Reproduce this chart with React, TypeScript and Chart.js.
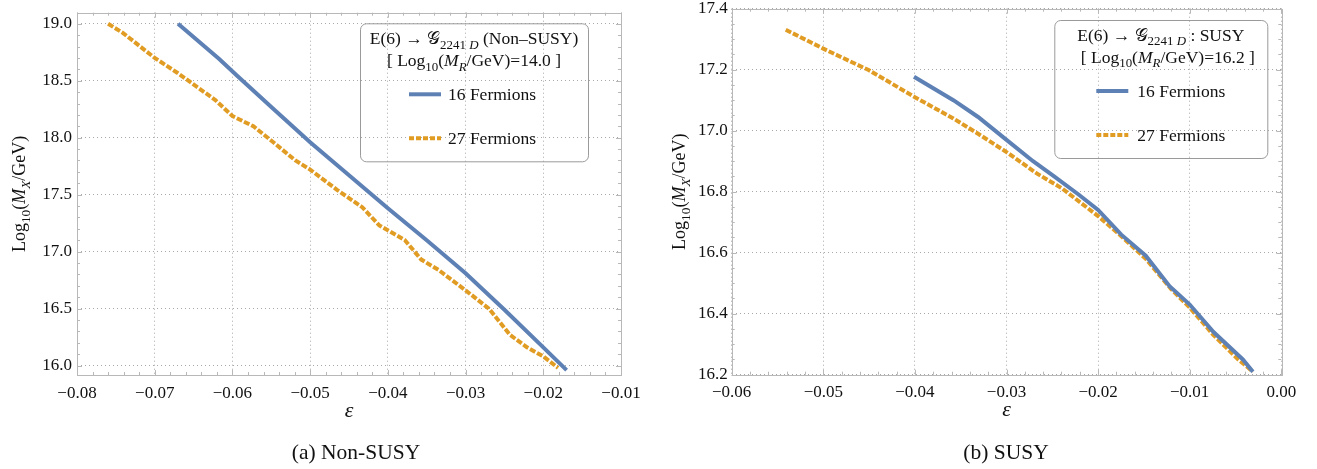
import React, { useEffect, useRef } from "react";
import { Chart, registerables } from "chart.js";

Chart.register(...registerables);

const SERIF = '"Liberation Serif", "Times New Roman", Times, serif';
const BLUE = "#5e81b5";
const ORANGE = "#e19c24";
const GRID = "#a8a8a8";
const FRAME = "#b8b8b8";
const TEXT = "#111111";

const seriesLabels = ["16 Fermions", "27 Fermions"];

// ---------- (a) Non-SUSY ----------
const nonSusyEps16 = [-0.067, -0.0617, -0.0595, -0.055, -0.05, -0.045, -0.04, -0.035, -0.03, -0.025, -0.02, -0.017];
const nonSusyLogMX16 = [19.0, 18.69, 18.55, 18.27, 17.96, 17.67, 17.38, 17.1, 16.81, 16.49, 16.16, 15.96];
const nonSusyEps27 = [
  -0.076, -0.0741, -0.07, -0.0671, -0.0622, -0.06, -0.0573, -0.0551, -0.0519, -0.05, -0.0465,
  -0.0433, -0.0411, -0.0378, -0.0357, -0.0335, -0.03, -0.027, -0.0243, -0.0221, -0.02, -0.0181,
];
const nonSusyLogMX27 = [
  19.0, 18.92, 18.7, 18.57, 18.33, 18.19, 18.1, 17.98, 17.8, 17.72, 17.54,
  17.39, 17.23, 17.1, 16.93, 16.84, 16.66, 16.5, 16.27, 16.16, 16.08, 15.98,
];
const nonSusyXTicks = [-0.08, -0.07, -0.06, -0.05, -0.04, -0.03, -0.02, -0.01];
const nonSusyYTicks = [16.0, 16.5, 17.0, 17.5, 18.0, 18.5, 19.0];

// ---------- (b) SUSY ----------
const susyEps16 = [
  -0.0401, -0.0358, -0.0331, -0.03, -0.0271, -0.0248, -0.0221, -0.02, -0.0175, -0.0148, -0.0122, -0.01,
  -0.0074, -0.0042, -0.0031,
];
const susyLogMX16 = [
  17.177, 17.1, 17.045, 16.97, 16.9, 16.85, 16.79, 16.74, 16.66, 16.59, 16.49, 16.43, 16.34, 16.25, 16.21,
];
const susyEps27 = [
  -0.0541, -0.05, -0.045, -0.04, -0.0358, -0.0331, -0.03, -0.0267, -0.0239, -0.02, -0.0175, -0.0148,
  -0.012, -0.01, -0.0074, -0.0047, -0.0031,
];
const susyLogMX27 = [
  17.331, 17.269, 17.198, 17.11, 17.04, 16.99, 16.93, 16.86, 16.81, 16.72, 16.655, 16.58, 16.48, 16.42,
  16.33, 16.25, 16.21,
];
const susyXTicks = [-0.06, -0.05, -0.04, -0.03, -0.02, -0.01, 0.0];
const susyYTicks = [16.2, 16.4, 16.6, 16.8, 17.0, 17.2, 17.4];

// ---------- rich text helpers ----------
type Seg = { t: string; italic?: boolean; sub?: boolean };

function segFont(s: Seg, size: number) {
  const sz = s.sub ? size * 0.74 : size;
  return `${s.italic ? "italic " : ""}${sz}px ${SERIF}`;
}
function richWidth(ctx: CanvasRenderingContext2D, segs: Seg[], size: number) {
  let w = 0;
  for (const s of segs) {
    ctx.font = segFont(s, size);
    w += ctx.measureText(s.t).width;
  }
  return w;
}
function drawRich(
  ctx: CanvasRenderingContext2D,
  segs: Seg[],
  x: number,
  y: number,
  size: number,
  align: "center" | "left"
) {
  const w = richWidth(ctx, segs, size);
  let cx = align === "center" ? x - w / 2 : x;
  ctx.textAlign = "left";
  ctx.textBaseline = "alphabetic";
  ctx.fillStyle = TEXT;
  for (const s of segs) {
    ctx.font = segFont(s, size);
    ctx.fillText(s.t, cx, y + (s.sub ? size * 0.25 : 0));
    cx += ctx.measureText(s.t).width;
  }
}

const yTitleSegs: Seg[] = [
  { t: "Log" },
  { t: "10", sub: true },
  { t: "(" },
  { t: "M", italic: true },
  { t: "X", italic: true, sub: true },
  { t: "/GeV)" },
];

interface LegendCfg {
  rightOff: number;
  topOff: number;
  w: number;
  h: number;
  sampleX: number;
  textX: number;
  title1: Seg[];
  title2: Seg[];
  title2Shift: number;
}

interface PanelCfg {
  xMin: number;
  xMax: number;
  yMin: number;
  yMax: number;
  xTicks: number[];
  yTicks: number[];
  xMinor: number;
  yMinor: number;
  xDec: number;
  yDec: number;
  eps16: number[];
  y16: number[];
  eps27: number[];
  y27: number[];
  padTop: number;
  padRight: number;
  padBottom: number;
  yAxisWidth: number;
  yTickPad: number;
  yTitleX: number;
  legend: LegendCfg;
}

const panelA: PanelCfg = {
  xMin: -0.08,
  xMax: -0.01,
  yMin: 15.917,
  yMax: 19.097,
  xTicks: nonSusyXTicks,
  yTicks: nonSusyYTicks,
  xMinor: 0.002,
  yMinor: 0.1,
  xDec: 2,
  yDec: 1,
  eps16: nonSusyEps16,
  y16: nonSusyLogMX16,
  eps27: nonSusyEps27,
  y27: nonSusyLogMX27,
  padTop: 12.7,
  padRight: 34,
  padBottom: 34,
  yAxisWidth: 77,
  yTickPad: 5,
  yTitleX: 19,
  legend: {
    rightOff: 33,
    topOff: 10.6,
    w: 228,
    h: 138,
    sampleX: 49,
    textX: 88,
    title1: [
      { t: "E(6) \u2192 " },
      { t: "\uD835\uDCA2" },
      { t: "2241 ", sub: true },
      { t: "D", sub: true, italic: true },
      { t: " (Non\u2013SUSY)" },
    ],
    title2: [
      { t: "[ Log" },
      { t: "10", sub: true },
      { t: "(" },
      { t: "M", italic: true },
      { t: "R", italic: true, sub: true },
      { t: "/GeV)=14.0 ]" },
    ],
    title2Shift: 0,
  },
};

const panelB: PanelCfg = {
  xMin: -0.06,
  xMax: 0.0,
  yMin: 16.2,
  yMax: 17.4,
  xTicks: susyXTicks,
  yTicks: susyYTicks,
  xMinor: 0.002,
  yMinor: 0.05,
  xDec: 2,
  yDec: 1,
  eps16: susyEps16,
  y16: susyLogMX16,
  eps27: susyEps27,
  y27: susyLogMX27,
  padTop: 8.7,
  padRight: 35.7,
  padBottom: 34.3,
  yAxisWidth: 76.7,
  yTickPad: 4,
  yTitleX: 24,
  legend: {
    rightOff: 14,
    topOff: 11.3,
    w: 213,
    h: 138,
    sampleX: 42,
    textX: 83,
    title1: [
      { t: "E(6) \u2192 " },
      { t: "\uD835\uDCA2" },
      { t: "2241 ", sub: true },
      { t: "D", sub: true, italic: true },
      { t: " : SUSY" },
    ],
    title2: [
      { t: "[ Log" },
      { t: "10", sub: true },
      { t: "(" },
      { t: "M", italic: true },
      { t: "R", italic: true, sub: true },
      { t: "/GeV)=16.2 ]" },
    ],
    title2Shift: 7,
  },
};

function fmt(v: number, dec: number) {
  return Number(v).toFixed(dec).replace("-", "\u2212");
}

function buildConfig(p: PanelCfg): any {
  const framePlugin = {
    id: "frameTicks",
    beforeDatasetsDraw(chart: any) {
      const { ctx, chartArea: a, scales } = chart;
      ctx.save();
      ctx.strokeStyle = FRAME;
      ctx.lineWidth = 1;
      ctx.setLineDash([]);
      ctx.strokeRect(Math.round(a.left) + 0.5, Math.round(a.top) + 0.5, Math.round(a.right - a.left), Math.round(a.bottom - a.top));
      const drawX = (v: number, len: number) => {
        const px = Math.round(scales.x.getPixelForValue(v)) + 0.5;
        ctx.beginPath();
        ctx.moveTo(px, a.bottom);
        ctx.lineTo(px, a.bottom - len);
        ctx.moveTo(px, a.top);
        ctx.lineTo(px, a.top + len);
        ctx.stroke();
      };
      const drawY = (v: number, len: number) => {
        const py = Math.round(scales.y.getPixelForValue(v)) + 0.5;
        ctx.beginPath();
        ctx.moveTo(a.left, py);
        ctx.lineTo(a.left + len, py);
        ctx.moveTo(a.right, py);
        ctx.lineTo(a.right - len, py);
        ctx.stroke();
      };
      const n0 = Math.ceil(p.xMin / p.xMinor - 1e-6);
      const n1 = Math.floor(p.xMax / p.xMinor + 1e-6);
      for (let n = n0; n <= n1; n++) drawX(n * p.xMinor, 3);
      const m0 = Math.ceil(p.yMin / p.yMinor - 1e-6);
      const m1 = Math.floor(p.yMax / p.yMinor + 1e-6);
      for (let m = m0; m <= m1; m++) drawY(m * p.yMinor, 3);
      p.xTicks.forEach((v) => drawX(v, 5));
      p.yTicks.forEach((v) => drawY(v, 5));
      ctx.restore();
    },
    afterDraw(chart: any) {
      const { ctx, chartArea: a } = chart;
      const L = p.legend;
      ctx.save();
      // y-axis title (rotated rich text)
      ctx.translate(p.yTitleX, (a.top + a.bottom) / 2);
      ctx.rotate(-Math.PI / 2);
      drawRich(ctx, yTitleSegs, 0, 6, 18, "center");
      ctx.restore();

      // legend box
      const bx = a.right - L.rightOff - L.w;
      const by = a.top + L.topOff;
      ctx.save();
      ctx.strokeStyle = "#9a9a9a";
      ctx.lineWidth = 1;
      ctx.beginPath();
      if ((ctx as any).roundRect) (ctx as any).roundRect(bx + 0.5, by + 0.5, L.w, L.h, 6);
      else ctx.rect(bx + 0.5, by + 0.5, L.w, L.h);
      ctx.stroke();
      const cx = bx + L.w / 2;
      drawRich(ctx, L.title1, cx, by + 21, 17.5, "center");
      drawRich(ctx, L.title2, cx + L.title2Shift, by + 43, 17.5, "center");
      const rows = [
        { y: by + 71, color: BLUE, dash: [] as number[], label: seriesLabels[0] },
        { y: by + 115, color: ORANGE, dash: [5, 2], label: seriesLabels[1] },
      ];
      rows.forEach((r) => {
        ctx.save();
        ctx.strokeStyle = r.color;
        ctx.lineWidth = 4;
        ctx.setLineDash(r.dash);
        ctx.beginPath();
        ctx.moveTo(bx + L.sampleX, r.y);
        ctx.lineTo(bx + L.sampleX + 32, r.y);
        ctx.stroke();
        ctx.restore();
        drawRich(ctx, [{ t: r.label }], bx + L.textX, r.y + 6, 17.5, "left");
      });
      ctx.restore();
    },
  };

  const zeroPad = (s: any) => {
    s.paddingTop = 0;
    s.paddingBottom = 0;
    s.paddingLeft = 0;
    s.paddingRight = 0;
  };

  return {
    type: "scatter",
    data: {
      datasets: [
        {
          label: seriesLabels[0],
          data: p.eps16.map((x, i) => ({ x, y: p.y16[i] })),
          borderColor: BLUE,
          backgroundColor: BLUE,
          borderWidth: 4,
          showLine: true,
          pointRadius: 0,
          tension: 0,
          fill: false,
        },
        {
          label: seriesLabels[1],
          data: p.eps27.map((x, i) => ({ x, y: p.y27[i] })),
          borderColor: ORANGE,
          backgroundColor: ORANGE,
          borderWidth: 4,
          borderDash: [6, 2],
          showLine: true,
          pointRadius: 0,
          tension: 0,
          fill: false,
        },
      ],
    },
    options: {
      animation: false,
      responsive: false,
      maintainAspectRatio: false,
      layout: { padding: { left: 0, top: p.padTop, right: p.padRight, bottom: p.padBottom } },
      plugins: { legend: { display: false }, tooltip: { enabled: false }, title: { display: false } },
      scales: {
        x: {
          type: "linear",
          min: p.xMin,
          max: p.xMax,
          afterBuildTicks: (s: any) => {
            s.ticks = p.xTicks.map((v) => ({ value: v }));
          },
          afterFit: (s: any) => {
            s.height = 60;
            zeroPad(s);
          },
          grid: { color: GRID, lineWidth: 1, drawTicks: false },
          border: { display: false, dash: [1, 3] },
          ticks: {
            padding: 8,
            autoSkip: false,
            maxRotation: 0,
            color: TEXT,
            font: { family: SERIF, size: 17 },
            callback: (v: any) => fmt(v, p.xDec),
          },
          title: {
            display: true,
            text: "\u03B5",
            color: TEXT,
            font: { family: SERIF, size: 22, style: "italic" },
            padding: { top: 0, bottom: 11 },
          },
        },
        y: {
          type: "linear",
          min: p.yMin,
          max: p.yMax,
          afterBuildTicks: (s: any) => {
            s.ticks = p.yTicks.map((v) => ({ value: v }));
          },
          afterFit: (s: any) => {
            s.width = p.yAxisWidth;
            zeroPad(s);
          },
          grid: { color: GRID, lineWidth: 1, drawTicks: false },
          border: { display: false, dash: [1, 3] },
          ticks: {
            padding: p.yTickPad,
            autoSkip: false,
            color: TEXT,
            font: { family: SERIF, size: 17, lineHeight: 1 },
            callback: (v: any) => fmt(v, p.yDec),
          },
          title: { display: false },
        },
      },
    },
    plugins: [framePlugin],
  };
}

function Panel({ cfg, left, width }: { cfg: PanelCfg; left: number; width: number }) {
  const ref = useRef<HTMLCanvasElement>(null);
  useEffect(() => {
    if (!ref.current) return;
    const chart = new Chart(ref.current, buildConfig(cfg));
    return () => chart.destroy();
  }, [cfg]);
  return (
    <canvas
      ref={ref}
      width={width}
      height={469}
      style={{ position: "absolute", left, top: 0, width, height: 469 }}
    />
  );
}

const captionStyle: React.CSSProperties = {
  position: "absolute",
  top: 437,
  width: 300,
  textAlign: "center",
  fontFamily: SERIF,
  fontSize: 21.5,
  lineHeight: "30px",
  color: TEXT,
};

export default function App() {
  return (
    <div
      style={{
        position: "absolute",
        left: 0,
        top: 0,
        width: 1317,
        height: 469,
        background: "#ffffff",
        overflow: "hidden",
      }}
    >
      <Panel cfg={panelA} left={0} width={655} />
      <Panel cfg={panelB} left={655} width={662} />
      <div style={{ ...captionStyle, left: 356 - 150 }}>(a) Non-SUSY</div>
      <div style={{ ...captionStyle, left: 1006 - 150 }}>(b) SUSY</div>
    </div>
  );
}
